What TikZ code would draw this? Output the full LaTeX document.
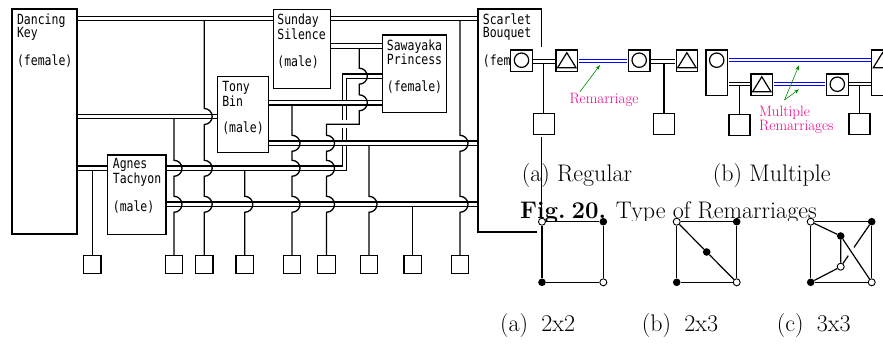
\documentclass[tikz,border=0pt]{standalone}
\usepackage{fontspec}
\newfontfamily\gothic[FakeStretch=0.82]{DejaVu Sans Mono}
\usetikzlibrary{arrows.meta,positioning,fit,backgrounds}

\tikzset{
  person/.style={draw,fill=white,line width=1.3pt,inner sep=0pt},
  pname/.style={anchor=base west,align=left,inner sep=0pt,font=\gothic\fontsize{14}{13.3}\selectfont},
  kid/.style={draw,fill=white,line width=1.3pt,minimum size=17.6pt,inner sep=0pt},
  wed/.style={line width=1.3pt,double=white,double distance=3.1pt},
  desc/.style={line width=1.3pt},
  gap/.style={draw=white,line width=8pt},
  sym/.style={draw,fill=white,line width=1.2pt,minimum size=21.6pt,inner sep=0pt},
  glyph/.style={line width=1.2pt},
  pwed/.style={line width=1.1pt,double=white,double distance=2.1pt,shorten <=0.5pt,shorten >=0.5pt},
  bwed/.style={pwed,draw=blue,line width=1pt,double distance=1.8pt},
  pkid/.style={line width=1.1pt},
  note/.style={green!55!black,line width=0.6pt,-{Stealth[length=5pt,width=3.5pt]}},
  pink/.style={text=magenta,inner sep=0pt,font=\fontsize{15}{14}\selectfont},
  capt/.style={anchor=base west,inner sep=0pt,font=\fontsize{24}{28}\selectfont},
  vfull/.style={circle,fill=black,minimum size=7.6pt,inner sep=0pt},
  vopen/.style={circle,draw,fill=white,line width=0.9pt,minimum size=7pt,inner sep=0pt},
  gedge/.style={line width=1.2pt}
}
\newcommand\hop[2]{-- (#1 |- 0,#2-8) arc (-90:90:8)}
\newcommand\circin[1]{\draw[glyph] ([yshift=-10.8pt]#1.north) circle (7.2pt);}
\newcommand\triin[1]{\draw[glyph] ([shift={(-9.2,18.3)}]#1.north) -- ([shift={(9.2,18.3)}]#1.north)
  -- ([shift={(0,3.3)}]#1.north) -- cycle;}

\begin{document}
\begin{tikzpicture}[x=1pt,y=-1pt,>=Stealth]
  \useasboundingbox (0,0) rectangle (883,347);
  \node[person,fit={(12,9) (77,234)}] (dk) {};
  \node[person,fit={(273.3,9.3) (330.7,88.3)}] (ss) {};
  \node[person,fit={(382.7,35) (446.7,112.3)}] (sp) {};
  \node[person,fit={(217.7,76.7) (268.3,152.7)}] (tb) {};
  \node[person,fit={(107.3,155) (166,234.3)}] (at) {};
  \node[person,fit={(478,9) (541.7,232)}] (sb) {};
  \node[pname] (dkt) at ([shift={(5.5,57.4)}]dk.north west) {Dancing\\Key\\[13.3pt](female)};
  \node[pname] (sst) at ([shift={(4.5,57.4)}]ss.north west) {Sunday\\Silence\\[13.3pt](male)};
  \node[pname] (spt) at ([shift={(4.6,57.2)}]sp.north west) {Sawayaka\\Princess\\[13.3pt](female)};
  \node[pname] (tbt) at ([shift={(5,56.7)}]tb.north west) {Tony\\Bin\\[13.3pt](male)};
  \node[pname] (att) at ([shift={(6,56.7)}]at.north west) {Agnes\\Tachyon\\[13.3pt](male)};
  \node[pname] (sbt) at ([shift={(5.3,57.4)}]sb.north west) {Scarlet\\Bouquet\\[13.3pt](female)};
  \node[kid] (k1) at (92.3,264.5) {};
  \node[kid] (k2) at (174,264.5) {};
  \node[kid] (k3) at (204.2,264.5) {};
  \node[kid] (k4) at (244.8,264.5) {};
  \node[kid] (k5) at (292,264.5) {};
  \node[kid] (k6) at (326.5,264.5) {};
  \node[kid] (k7) at (369,264.5) {};
  \node[kid] (k8) at (412.7,264.5) {};
  \node[kid] (k9) at (460,264.5) {};
  \begin{scope}[on background layer]
    \coordinate (turn) at (344.5,76.2);
    \coordinate (jog) at (359.3,124.3);
    \draw[wed] (at.east |- 0,168.3) -| (turn) -- (sp.west |- turn);
    \draw[wed] (dk.east |- 0,18.6) -- (sb.west |- 0,18.6);
    \draw[wed] (ss.east |- 0,46) -- (sp.west |- 0,46);
    \draw[wed] (dk.east |- 0,116.5) -- (tb.west |- 0,116.5);
    \draw[wed] (tb.east |- 0,102.8) -- (sp.west |- 0,102.8);
    \draw[wed] (tb.east |- 0,143.3) -- (sb.west |- 0,143.3);
    \draw[wed] (dk.east |- 0,168.3) -- (at.west |- 0,168.3);
    \draw[wed] (at.east |- 0,204.3) -- (sb.west |- 0,204.3);
    \draw[gap] ([xshift=-4pt]jog) -- ([xshift=-28pt]jog);
    \draw[desc] (k1 |- 0,170.5) -- (k1.north);
    \draw[desc] (k2 |- 0,118.7) \hop{k2}{168.3} \hop{k2}{204.3} -- (k2.north);
    \draw[desc] (k3 |- 0,20.8) \hop{k3}{116.5} \hop{k3}{168.3} \hop{k3}{204.3} -- (k3.north);
    \draw[desc] (k4 |- 0,170.5) \hop{k4}{204.3} -- (k4.north);
    \draw[desc] (k5 |- 0,105) \hop{k5}{143.3} \hop{k5}{168.3} \hop{k5}{204.3} -- (k5.north);
    \draw[desc] (jog |- 0,48.2) \hop{jog}{76.2} \hop{jog}{102.8} -- (jog) -- (k6 |- jog)
      \hop{k6}{143.3} \hop{k6}{168.3} \hop{k6}{204.3} -- (k6.north);
    \draw[desc] (k7 |- 0,145.5) \hop{k7}{204.3} -- (k7.north);
    \draw[desc] (k8 |- 0,206.5) -- (k8.north);
    \draw[desc] (k9 |- 0,20.8) \hop{k9}{143.3} \hop{k9}{204.3} -- (k9.north);
  \end{scope}

  \fill[white] (509.5,47) rectangle (883,137);
  \node[sym] (ra1) at (521.5,60.8) {};
  \node[sym] (ra2) at (566.8,60.8) {};
  \node[sym] (ra3) at (639.2,60.8) {};
  \node[sym] (ra4) at (686.9,60.8) {};
  \circin{ra1} \triin{ra2} \circin{ra3} \triin{ra4}
  \node[sym,minimum size=21pt] (rak1) at (543.6,124.2) {};
  \node[sym,minimum size=21pt] (rak2) at (664,124.2) {};
  \draw[pwed] (ra1.east |- 0,61.5) -- (ra2.west |- 0,61.5);
  \draw[bwed] (ra2.east |- 0,60.7) -- (ra3.west |- 0,60.7);
  \draw[pwed] (ra3.east |- 0,61.5) -- (ra4.west |- 0,61.5);
  \draw[pkid] (rak1 |- 0,63.2) -- (rak1.north);
  \draw[pkid] (rak2 |- 0,63.2) -- (rak2.north);
  \node[sym,minimum height=45.7pt] (rb1) at (716.7,72.85) {};
  \node[sym] (rb2) at (761.8,84.85) {};
  \node[sym] (rb3) at (837.3,84.85) {};
  \node[sym,minimum height=45.7pt] (rb4) at (882.5,72.85) {};
  \circin{rb1} \triin{rb2} \circin{rb3} \triin{rb4}
  \node[sym,minimum size=21pt] (rbk1) at (739.5,125) {};
  \node[sym,minimum size=21pt] (rbk2) at (859.5,124.2) {};
  \draw[bwed] (rb1.east |- 0,60.3) -- (rb4.west |- 0,60.3);
  \draw[pwed] (rb1.east |- 0,83.8) -- (rb2.west |- 0,83.8);
  \draw[bwed] (rb2.east |- 0,83.8) -- (rb3.west |- 0,83.8);
  \draw[pwed] (rb3.east |- 0,83.8) -- (rb4.west |- 0,83.8);
  \draw[pkid] (rbk1 |- 0,85.8) -- (rbk1.north);
  \draw[pkid] (rbk2 |- 0,85.8) -- (rbk2.north);
  \node[pink,anchor=base] (rem) at (604,104) {Remarriage};
  \node[pink,anchor=base west,align=left] (mrem) at (759,130.7) {Multiple\\Remarriages};
  \coordinate (rtail) at (580,91.7);
  \coordinate (rtip) at (600,65);
  \coordinate (mtail) at (784.5,100);
  \coordinate (mtip1) at (799,65.3);
  \coordinate (mtip2) at (799,89.3);
  \draw[note] (rtail) -- (rtip);
  \draw[note] (mtail) -- (mtip1);
  \draw[note] (mtail) -- (mtip2);
  \node[capt] (capa) at (521.7,181.7) {(a) Regular};
  \node[capt] (capb) at (712.7,181.7) {(b) Multiple};
  \node[capt] (fig) at (520,218.3) {\textbf{Fig.\hspace{0.25em}20.}\hspace{0.4em}Type of Remarriages};

  \fill[white] (537,221.5) rectangle (883,347);
  \node[vopen] (p1) at (542,221.7) {};
  \node[vfull] (p2) at (603.3,221.7) {};
  \node[vfull] (p3) at (542,282.3) {};
  \node[vopen] (p4) at (603.3,282.3) {};
  \draw[gedge] (p1) -- (p2) -- (p4) -- (p3) -- (p1);
  \node[vopen] (q1) at (676.7,221.7) {};
  \node[vfull] (q2) at (736.7,221.7) {};
  \node[vfull] (q3) at (676.7,282.3) {};
  \node[vopen] (q4) at (736.7,282.3) {};
  \node[vfull] (q5) at (706.7,252) {};
  \draw[gedge] (q1) -- (q2) -- (q4) -- (q3) -- (q1);
  \draw[gedge] (q1) -- (q5) -- (q4);
  \node[vopen] (s1) at (810.7,221.7) {};
  \node[vfull] (s2) at (871.7,221.7) {};
  \node[vfull] (s3) at (810.7,282.3) {};
  \node[vopen] (s4) at (871.7,282.3) {};
  \node[vfull] (s5) at (840.7,236) {};
  \node[vopen] (s6) at (840.7,266.7) {};
  \draw[gedge] (s1) -- (s2) -- (s4) -- (s3) -- (s1);
  \draw[gedge] (s1) -- (s5) -- (s6) -- (s3);
  \draw[gedge] (s6) -- (s2);
  \draw[gedge,preaction={draw=white,line width=9pt,shorten <=7pt,shorten >=25pt}] (s5) -- (s4);
  \node[capt] (ga) at (500,331.7) {(a)\hspace{0.55em}2x2};
  \node[capt] (gb) at (641.7,331.7) {(b)\hspace{0.55em}2x3};
  \node[capt] (gc) at (776.7,331.7) {(c)\hspace{0.55em}3x3};
\end{tikzpicture}
\end{document}
